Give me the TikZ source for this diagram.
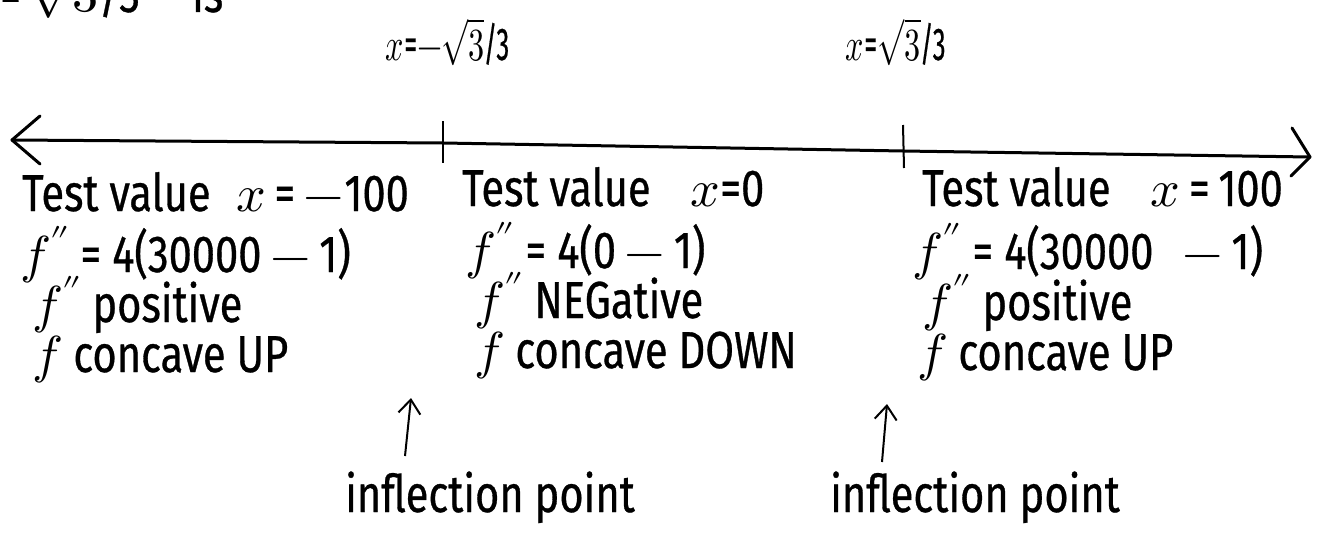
\documentclass[tikz,border=0pt]{standalone}
\usepackage{fontspec}
\usepackage{unicode-math}
\setmainfont{Fira Sans}[FakeStretch=0.8, FakeBold=0.6]
\setmathfont{Latin Modern Math}
\usetikzlibrary{arrows.meta}
\newcommand{\mn}{$-$}
\tikzset{
  hand/.style={font=\fontsize{52}{58}\selectfont, inner sep=0pt, anchor=base west},
  lab/.style={font=\fontsize{46}{52}\selectfont, inner sep=0pt, anchor=base west},
  axis/.style={line width=3pt, line cap=round, line join=round},
  tick/.style={line width=2pt},
  uparrow/.style={line width=2pt, -{Straight Barb[length=14pt,width=22pt,line width=2pt]}}
}
\begin{document}
\begin{tikzpicture}[x=1pt,y=-1pt]
\useasboundingbox[fill=white] (0,0) rectangle (1325,546);
% partial top text (cut off by the edge, as in the reference)
\node[hand] (top) at (0,12) {=\,$\sqrt{3}$/3\quad is};
% axis
\coordinate (L) at (12,140);
\coordinate (R) at (1310,157);
\coordinate (t1) at (443,143);
\coordinate (t2) at (903,151);
\draw[axis] (L) -- (t1) -- (t2) -- (R);
\draw[axis] (40,116) -- (L) -- (40,164);
\draw[axis] (1292,128) -- (R) -- (1291,176);
\draw[tick] (443,121) -- (443,163);
\draw[tick] (903,125) -- (904,168);
% tick labels
\node[lab] (l1) at (385,60) {\scalebox{0.7}[1]{$x$\kern1pt=\kern1pt\mn\kern-2pt$\sqrt{3}$\kern-1pt/3}};
\node[lab] (l2) at (845,60) {\scalebox{0.7}[1]{$x$\kern1pt=\kern1pt$\sqrt{3}$\kern-1pt/3}};
% column 1
\node[hand] (a1) at (22,211) {Test value\; $x$\,=\,\mn100};
\node[hand] (a2) at (20,272) {$f''$ = 4(30000\,\mn\,1)};
\node[hand] (a3) at (32,322) {$f''$ positive};
\node[hand] (a4) at (32,372) {$f$ concave UP};
% column 2
\node[hand] (b1) at (462,206) {Test value\;\; $x$=0};
\node[hand] (b2) at (465,268) {$f''$ = 4(0\,\mn\,1)};
\node[hand] (b3) at (474,318) {$f''$ NEGative};
\node[hand] (b4) at (474,368) {$f$ concave DOWN};
% column 3
\node[hand] (c1) at (922,206) {Test value\;\; $x$\,=\,100};
\node[hand] (c2) at (912,269) {$f''$ = 4(30000\;\;\mn\,1)};
\node[hand] (c3) at (922,320) {$f''$ positive};
\node[hand] (c4) at (917,370) {$f$ concave UP};
% inflection labels
\node[hand] (i1) at (345,512) {inflection point};
\node[hand] (i2) at (830,512) {inflection point};
\coordinate (s1) at (405,456);
\coordinate (p1) at (411,398);
\coordinate (s2) at (882,462);
\coordinate (p2) at (887,404);
\draw[uparrow] (s1) -- (p1);
\draw[uparrow] (s2) -- (p2);
\end{tikzpicture}
\end{document}
